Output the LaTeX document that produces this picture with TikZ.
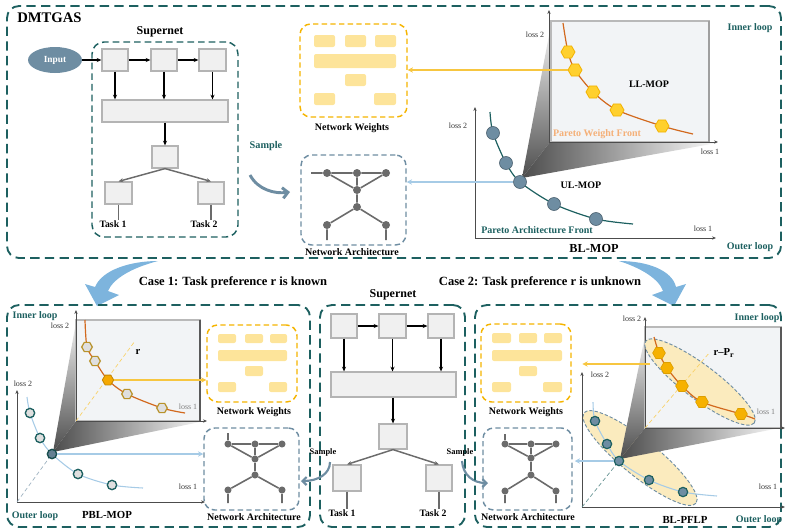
\documentclass[tikz,border=0pt]{standalone}
\usepackage{fontspec}
\setmainfont{Liberation Serif}
\usetikzlibrary{shapes.geometric,arrows.meta,fit}
\newcommand{\myfs}[1]{\fontsize{#1}{#1}\selectfont}
\definecolor{teal1}{HTML}{1D6060}
\definecolor{steel}{HTML}{6E8DA2}
\definecolor{boxfill}{HTML}{F0F0F0}
\definecolor{boxgray}{HTML}{B4B4B4}
\definecolor{wyel}{HTML}{FDE49A}
\definecolor{wbord}{HTML}{F5B400}
\definecolor{curveor}{HTML}{D2691E}
\definecolor{hexfill}{HTML}{FFD02E}
\definecolor{hexdraw}{HTML}{F2B200}
\definecolor{lblue}{HTML}{A6CBE6}
\definecolor{caseblue}{HTML}{7DB4DD}
\definecolor{graphg}{HTML}{6B6B6B}
\definecolor{panel}{HTML}{F2F4F6}
\definecolor{pwf}{HTML}{F5B078}
\definecolor{ylline}{HTML}{F7C640}
\definecolor{ellfill}{HTML}{FBEBBE}
\definecolor{hexgold}{HTML}{B8922A}
\definecolor{hexsel}{HTML}{F5A800}
\definecolor{brhexc}{HTML}{F6B100}
\begin{document}
\begin{tikzpicture}[x=0.75pt,y=-0.75pt,
 outerbox/.style={draw=teal1, line width=1.4pt, dash pattern=on 7pt off 4pt, rounded corners=9pt, inner sep=0pt},
 wbox/.style={draw=wbord, line width=1.1pt, dash pattern=on 4pt off 2.5pt, rounded corners=8pt, inner sep=0pt},
 abox/.style={draw=steel, line width=1.1pt, dash pattern=on 4pt off 2.5pt, rounded corners=8pt, inner sep=0pt},
 sbox/.style={draw=boxgray, fill=boxfill, line width=0.9pt, inner sep=0pt},
 blk/.style={draw=black, line width=1.1pt, -{Stealth[length=3.5pt,width=3pt]}},
 gry/.style={draw=graphg, line width=1.1pt, -{Stealth[length=3.5pt,width=3pt]}},
 wrect/.style={fill=wyel, rounded corners=1.5pt},
 gnode/.style={circle, fill=graphg, inner sep=0pt, minimum size=6pt},
 gnodes/.style={circle, fill=graphg, inner sep=0pt, minimum size=5.3pt},
 gline/.style={draw=graphg, line width=1.2pt},
 lab/.style={font=\myfs{7.5}\bfseries, inner sep=0pt},
 axl/.style={font=\myfs{6}, inner sep=0pt, text=black!80},
 loopl/.style={font=\myfs{7.5}\bfseries, text=teal1, inner sep=0pt},
 axisar/.style={draw=black!70, line width=0.6pt, -{Stealth[length=3pt,width=2.5pt]}},
 yarrow/.style={draw=ylline, line width=1.1pt, -{Stealth[length=4pt,width=4pt]}},
 barrow/.style={draw=lblue, line width=1.1pt, -{Stealth[length=4pt,width=4pt]}},
 thex/.style={regular polygon, regular polygon sides=6, fill=hexfill, draw=hexdraw, line width=0.6pt, minimum size=10.5pt, inner sep=0pt},
 ucirc/.style={circle, fill=steel, draw=steel!70!black, line width=0.5pt, minimum size=9.75pt, inner sep=0pt},
 blhex/.style={regular polygon, regular polygon sides=6, fill=gray!25, draw=hexgold, line width=0.9pt, minimum size=8pt, inner sep=0pt},
 blhexsel/.style={regular polygon, regular polygon sides=6, fill=hexsel, draw=hexsel!80!black, line width=0.6pt, minimum size=8.5pt, inner sep=0pt},
 blcirc/.style={circle, fill=gray!25, draw=teal1, line width=1pt, minimum size=7pt, inner sep=0pt},
 blcircsel/.style={circle, fill=steel!90!black, draw=teal1!80!black, line width=1pt, minimum size=7pt, inner sep=0pt},
 brhex/.style={regular polygon, regular polygon sides=6, fill=brhexc, draw=brhexc!90!black, line width=0.5pt, minimum size=9.5pt, inner sep=0pt},
 brcirc/.style={circle, fill=steel, draw=teal1, line width=0.9pt, minimum size=7pt, inner sep=0pt},
 sampb/.style={draw=steel, line width=1.6pt, -{Straight Barb[length=3pt,width=6pt]}},
 ellp/.style={fill=ellfill, draw=steel, line width=0.7pt, dash pattern=on 2.5pt off 1.5pt},
 faceL/.style={top color=gray!12, bottom color=black!70},
 faceB/.style={left color=black!70, right color=gray!4}
]
\path[use as bounding box] (0,0) rectangle (785,529);

% ================= TOP SECTION =================
\node[outerbox, fit={(7,6)(781,258)}] (topbox) {};
\node[anchor=west, font=\myfs{11}\bfseries, inner sep=0pt] (dmt) at (17,18) {DMTGAS};

% supernet (top)
\node[outerbox, line width=1.1pt, dash pattern=on 5pt off 3pt, fit={(92,42)(238,237)}] (snt) {};
\node[font=\myfs{9}\bfseries, inner sep=0pt] (snlab) at (160,32) {Supernet};
\node[ellipse, fill=steel, minimum width=40.5pt, minimum height=19.5pt, inner sep=0pt, text=white, font=\myfs{7}\bfseries] (inp) at (55,60) {Input};
\node[sbox, fit={(102,49)(128,71)}] (t1) {};
\node[sbox, fit={(151,49)(177,71)}] (t2) {};
\node[sbox, fit={(199,49)(226,71)}] (t3) {};
\node[sbox, fit={(102,100)(228,122)}] (tw) {};
\node[sbox, fit={(152,146)(178,168)}] (tm) {};
\node[sbox, fit={(105,182)(132,204)}] (ta) {};
\node[sbox, fit={(198,182)(224,204)}] (tb) {};
\draw[blk] (inp) -- (t1);
\draw[blk] (t1) -- (t2);
\draw[blk] (t2) -- (t3);
\foreach \n in {t1,t2,t3} \draw[blk] (\n.south) -- (\n.south |- tw.north);
\draw[blk] (tw.south -| tm) -- (tm.north);
\draw[gry] (tm.south) -- (ta.north);
\draw[gry] (tm.south) -- (tb.north);
\node[font=\myfs{7.3}\bfseries, inner sep=0pt] (tl1) at (113,224) {Task 1};
\node[font=\myfs{7.3}\bfseries, inner sep=0pt] (tl2) at (204,224) {Task 2};
\draw[graphg, line width=0.9pt] (ta.south) -- (ta.south |- tl1.north);
\draw[graphg, line width=0.9pt] (tb.south) -- (tb.south |- tl2.north);

% network weights (top)
\node[wbox, fit={(300,24)(407,117)}] (tww) {};
\foreach \a/\b/\c/\d in {314/35/335/47, 345/35/366/47, 375/35/396/47, 314/54/396/68, 345/74/366/86, 314/93/335/105, 374/93/396/105}
  \fill[wrect] (\a,\b) rectangle (\c,\d);
\node[lab] (twl) at (352,128) {Network Weights};

% network architecture (top)
\node[abox, fit={(301,155)(406,245)}] (twa) {};
\node[lab] (tal) at (352,252) {Network Architecture};
\foreach \n/\x/\y in {tg1/327/173, tg2/357/173, tg3/386/173, tg4/357/190, tg5/357/207, tg6/327/225, tg7/386/225}
  \node[gnode] (\n) at (\x,\y) {};
\coordinate (tgs) at (311,173);
\coordinate (tgb6) at (327,240);
\coordinate (tgb7) at (386,240);
\draw[gline] (tgs) -- (tg1) (tg1) -- (tg2) (tg2) -- (tg3) (tg1) -- (tg4) (tg3) -- (tg4) (tg2) -- (tg4) (tg4) -- (tg5) (tg5) -- (tg6) (tg5) -- (tg7) (tg6) -- (tgb6) (tg7) -- (tgb7);

% sample (top)
\node[font=\myfs{7.7}\bfseries, text=teal1, inner sep=0pt] (samp) at (266,146) {Sample};
\coordinate (s0) at (250,175);
\coordinate (s1) at (290,192);
\draw[sampb, line width=2.2pt, -{Straight Barb[length=4pt,width=8pt]}] (s0) .. controls (258,190) and (275,194) .. (s1);

% inner plot (top right)
\shade[faceL] (522,178) -- (550,30) -- (550,142) -- cycle;
\shade[faceB] (522,178) -- (550,142) -- (717,143) -- cycle;
\draw[gray!55, fill=panel, line width=1pt] (551,21) rectangle (709,142);
\draw[gray!75, line width=1.6pt] (709,21) -- (709,142);
\draw[axisar] (549,142) -- (549,10);
\draw[axisar] (549,142) -- (718,142);
\node[axl] at (535,35) {loss 2};
\node[axl] at (710,152) {loss 1};
\draw[curveor, line width=0.9pt] plot[smooth] coordinates {(563,23) (568,52) (575,70) (593,92) (617,110) (662,126) (693,134)};
\foreach \n/\x/\y in {th1/568/52, th2/575/70, th3/593/92, th4/617/110, th5/662/126}
  \node[thex] (\n) at (\x,\y) {};
\draw[yarrow] (th2.west) -- (th2.west -| tww.east);
\node[lab] at (649,84) {LL-MOP};
\node[lab, text=pwf] at (597,134) {Pareto Weight Front};

% outer plot (top)
\draw[axisar] (475,238) -- (475,107);
\draw[axisar] (475,238) -- (716,238);
\node[axl] at (458,126) {loss 2};
\node[axl] at (703,229) {loss 1};
\draw[teal1, line width=0.9pt] plot[smooth] coordinates {(490,112) (493,133) (506,163) (520,182) (554,204) (596,219) (633,224)};
\foreach \n/\x/\y in {uc1/493/133, uc2/506/163, uc3/520/182, uc4/554/204, uc5/596/219}
  \node[ucirc] (\n) at (\x,\y) {};
\draw[barrow] (uc3.west) -- (uc3.west -| twa.east);
\node[lab] at (581,185) {UL-MOP};
\node[lab, text=teal1] at (537,230) {Pareto Architecture Front};
\node[font=\myfs{9.2}\bfseries, inner sep=0pt] at (594,248) {BL-MOP};
\node[loopl] at (750,28) {Inner loop};
\node[loopl] at (750,247) {Outer loop};

% ================= CASE ARROWS =================
\fill[caseblue] (158,261) .. controls (130,261) and (102,270) .. (95,287) -- (85,284) -- (97,306) -- (119,295) -- (108,291) .. controls (113,279) and (131,268) .. cycle;
\fill[caseblue] (619,261) .. controls (647,261) and (672,270) .. (676,287) -- (686,284) -- (674,306) -- (652,295) -- (663,291) .. controls (659,279) and (641,268) .. cycle;
\node[font=\myfs{9.4}\bfseries, inner sep=0pt] (case1) at (233,282) {Case 1: Task preference r is known};
\node[font=\myfs{9.4}\bfseries, inner sep=0pt] (case2) at (540,282) {Case 2: Task preference r is unknown};

% ================= BOTTOM LEFT =================
\node[outerbox, fit={(7,305)(310,527)}] (blbox) {};
\shade[faceL] (53,452) -- (76,322) -- (76,421) -- cycle;
\shade[faceB] (53,452) -- (76,421) -- (205,421) -- cycle;
\draw[gray!55, fill=panel, line width=1pt] (76,320) rectangle (200,421);
\draw[black!65, line width=1.3pt] (200,320) -- (200,421);
\draw[axisar] (76,421) -- (76,310);
\draw[axisar] (76,421) -- (207,421);
\node[axl] at (60,326) {loss 2};
\node[axl, text=gray] at (188,407) {loss 1};
\draw[ylline!80, line width=0.5pt, densely dashed] (76,421) -- (135,341);
\node[font=\myfs{8}\bfseries, inner sep=0pt] at (138,352) {r};
\draw[curveor, line width=0.9pt] plot[smooth] coordinates {(85,320) (87,347) (95,361) (108,380) (127,394) (162,408) (185,413)};
\node[blhex] (bh1) at (87,347) {};
\node[blhex] (bh2) at (95,361) {};
\node[blhexsel] (bh3) at (108,380) {};
\node[blhex] (bh4) at (127,394) {};
\node[blhex] (bh5) at (162,408) {};
\draw[axisar] (17,502) -- (17,390);
\draw[axisar] (17,502) -- (205,502);
\node[axl] at (23,384) {loss 2};
\node[axl] at (188,487) {loss 1};
\draw[lblue, line width=0.8pt] plot[smooth] coordinates {(27,397) (30,413) (40,438) (52,454) (78,474) (112,485) (143,488)};
\node[blcirc] (bc1) at (30,413) {};
\node[blcirc] (bc2) at (40,438) {};
\node[blcircsel] (bc3) at (52,454) {};
\node[blcirc] (bc4) at (78,474) {};
\node[blcirc] (bc5) at (112,485) {};
\coordinate (blo) at (17,502);
\draw[steel!70, line width=0.5pt, densely dashed] (blo) -- (bc3);
% weights / architecture (bottom left)
\node[wbox, fit={(207,325)(297,402)}] (bw) {};
\foreach \a/\b/\c/\d in {218/334/236/343, 245/334/263/343, 270/334/287/343, 218/350/287/361, 245/366/263/376, 218/382/236/392, 269/382/287/392}
  \fill[wrect] (\a,\b) rectangle (\c,\d);
\node[lab] at (254,412) {Network Weights};
\node[abox, fit={(204,428)(299,510)}] (bla) {};
\node[lab] at (254,517) {Network Architecture};
\foreach \n/\x/\y in {lg1/228/444, lg2/255/444, lg3/282/444, lg4/255/459, lg5/255/475, lg6/228/490, lg7/282/490}
  \node[gnodes] (\n) at (\x,\y) {};
\coordinate (lgs) at (228,433);
\coordinate (lgb6) at (228,503);
\coordinate (lgb7) at (282,503);
\draw[gline] (lgs) -- (lg1) (lg1) -- (lg2) (lg2) -- (lg3) (lg1) -- (lg4) (lg3) -- (lg4) (lg2) -- (lg4) (lg4) -- (lg5) (lg5) -- (lg6) (lg5) -- (lg7) (lg6) -- (lgb6) (lg7) -- (lgb7);
\draw[yarrow] (bh3.east) -- (bh3.east -| bw.west);
\draw[barrow] (bc3.east) -- (bc3.east -| bla.west);
\node[loopl] at (35,316) {Inner loop};
\node[loopl] at (35,516) {Outer loop};
\node[font=\myfs{8.1}\bfseries, inner sep=0pt] at (107,515) {PBL-MOP};

% ================= BOTTOM MIDDLE (supernet) =================
\node[outerbox, fit={(320,305)(465,527)}] (snb) {};
\node[font=\myfs{9}\bfseries, inner sep=0pt] at (393,295) {Supernet};
\node[sbox, fit={(331,314)(357,338)}] (b1) {};
\node[sbox, fit={(379,314)(406,338)}] (b2) {};
\node[sbox, fit={(428,314)(454,338)}] (b3) {};
\node[sbox, fit={(331,372)(456,397)}] (bwide) {};
\node[sbox, fit={(379,424)(407,449)}] (bm) {};
\node[sbox, fit={(333,465)(361,491)}] (ba) {};
\node[sbox, fit={(426,465)(452,491)}] (bb) {};
\draw[blk] (b1) -- (b2);
\draw[blk] (b2) -- (b3);
\foreach \n in {b1,b2,b3} \draw[blk] (\n.south) -- (\n.south |- bwide.north);
\draw[blk] (bwide.south -| bm) -- (bm.north);
\draw[gry] (bm.south) -- (ba.north);
\draw[gry] (bm.south) -- (bb.north);
\node[font=\myfs{7.3}\bfseries, inner sep=0pt] (bl1) at (342,513) {Task 1};
\node[font=\myfs{7.3}\bfseries, inner sep=0pt] (bl2) at (433,513) {Task 2};
\draw[graphg, line width=0.9pt] (ba.south) -- (ba.south |- bl1.north);
\draw[graphg, line width=0.9pt] (bb.south) -- (bb.south |- bl2.north);
\node[font=\myfs{6.3}\bfseries, inner sep=0pt] (sl) at (323,452) {Sample};
\node[font=\myfs{6.3}\bfseries, inner sep=0pt] (sr) at (460,452) {Sample};
\coordinate (sl0) at (330,462);
\coordinate (sl1) at (301,481);
\draw[sampb] (sl0) .. controls (330,474) and (318,481) .. (sl1);
\coordinate (sr0) at (462,461);
\coordinate (sr1) at (488,483);
\draw[sampb] (sr0) .. controls (463,475) and (473,483) .. (sr1);

% ================= BOTTOM RIGHT =================
\node[outerbox, fit={(475,305)(781,527)}] (brbox) {};
\draw[ellp, rotate around={-39:(640,458)}] (640,458) ellipse (72 and 18);
\shade[faceL] (620,459) -- (645,336) -- (645,428) -- cycle;
\shade[faceB] (620,459) -- (645,428) -- (780,428) -- cycle;
\draw[gray!55, fill=panel, line width=1pt] (645,327) rectangle (781,428);
\draw[black!65, line width=1.3pt] (781,327) -- (781,428);
\draw[axisar] (645,428) -- (645,317);
\draw[axisar] (645,428) -- (785,428);
\node[axl] at (632,319) {loss 2};
\draw[ellp, rotate around={-37:(700,382)}] (700,382) ellipse (68 and 17);
\node[axl, text=gray] at (766,412) {loss 1};
\draw[ylline!80, line width=0.5pt, densely dashed] (645,428) -- (710,352);
\node[font=\myfs{8}\bfseries, inner sep=0pt] at (724,353) {r--P\textsubscript{r}};
\draw[curveor, line width=0.9pt] plot[smooth] coordinates {(654,337) (659,353) (667,368) (682,386) (702,402) (741,414) (755,419)};
\foreach \n/\x/\y in {rh1/659/353, rh2/667/368, rh3/682/386, rh4/702/402, rh5/741/414}
  \node[brhex] (\n) at (\x,\y) {};
\draw[axisar] (582,507) -- (582,372);
\draw[axisar] (582,507) -- (785,507);
\node[axl] at (600,375) {loss 2};
\node[axl] at (768,487) {loss 1};
\draw[lblue, line width=0.8pt] plot[smooth] coordinates {(593,402) (595,421) (607,444) (619,461) (649,480) (683,492) (717,496)};
\foreach \n/\x/\y in {rc1/595/421, rc2/607/444, rc3/619/461, rc4/649/480, rc5/683/492}
  \node[brcirc] (\n) at (\x,\y) {};
\coordinate (bro) at (582,507);
\draw[teal1!70, line width=0.5pt, densely dashed] (bro) -- (rc3);
% weights / architecture (bottom right)
\node[wbox, fit={(481,324)(571,402)}] (rw) {};
\foreach \a/\b/\c/\d in {492/333/511/343, 519/333/537/343, 544/333/562/343, 492/350/562/361, 519/366/537/376, 492/382/511/392, 543/382/562/392}
  \fill[wrect] (\a,\b) rectangle (\c,\d);
\node[lab] at (526,412) {Network Weights};
\node[abox, fit={(483,428)(572,510)}] (ra) {};
\node[lab] at (528,517) {Network Architecture};
\foreach \n/\x/\y in {rg1/505/444, rg2/531/444, rg3/556/444, rg4/531/458, rg5/531/475, rg6/505/491, rg7/556/491}
  \node[gnodes] (\n) at (\x,\y) {};
\coordinate (rgs) at (505,434);
\coordinate (rgb6) at (505,503);
\coordinate (rgb7) at (556,503);
\draw[gline] (rgs) -- (rg1) (rg1) -- (rg2) (rg2) -- (rg3) (rg1) -- (rg4) (rg3) -- (rg4) (rg2) -- (rg4) (rg4) -- (rg5) (rg5) -- (rg6) (rg5) -- (rg7) (rg6) -- (rgb6) (rg7) -- (rgb7);
\coordinate (rwe) at (650,364);
\draw[yarrow, shorten >=8pt] (rwe) -- (rwe -| rw.east);
\draw[barrow, shorten >=1.5pt] (rc3.west) -- (rc3.west -| ra.east);
\node[loopl] at (757,318) {Inner loop};
\node[loopl] at (759,520) {Outer loop};
\node[font=\myfs{8.1}\bfseries, inner sep=0pt] at (685,520) {BL-PFLP};
\end{tikzpicture}
\end{document}
